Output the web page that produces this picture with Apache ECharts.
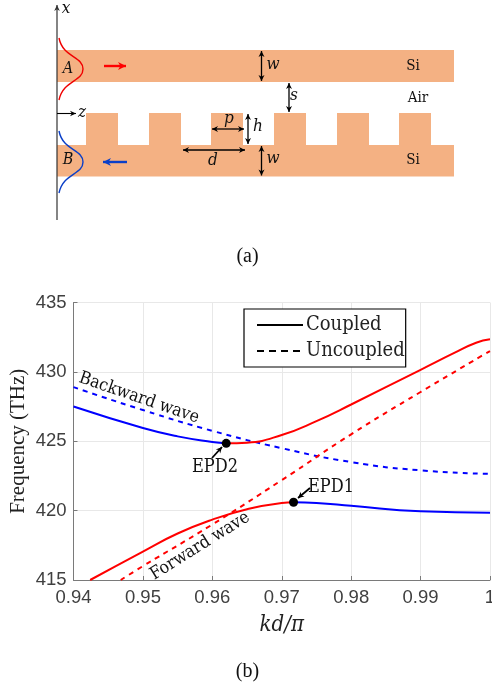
<!DOCTYPE html>
<html><head><meta charset="utf-8">
<style>html,body{margin:0;padding:0;background:#fff}#c{width:492px;height:686px}</style>
<script src="https://cdn.jsdelivr.net/npm/echarts@6/dist/echarts.min.js"></script>
</head><body><div id="c"></div>
<script>
const xTicks = [0.94,0.95,0.96,0.97,0.98,0.99,1];
const yTicks = [415,420,425,430,435];
const coupledBlueUpper = [[0.94,427.5],[0.95,425.95],[0.955,425.35],[0.96,424.95],[0.962,424.85]];
const coupledRedUpper = [[0.962,424.85],[0.965,424.9],[0.97,425.45],[0.975,426.45],[0.98,427.65],[0.99,430.15],[0.995,431.4],[0.998,432.1],[1,432.35]];
const coupledRedLower = [[0.9424,415],[0.95,417.05],[0.955,418.35],[0.96,419.35],[0.965,420.1],[0.97,420.55],[0.9717,420.6]];
const coupledBlueLower = [[0.9717,420.6],[0.975,420.55],[0.98,420.35],[0.99,419.95],[1,419.85]];
const uncoupledBlue = [[0.94,428.9],[0.95,427.25],[0.96,425.75],[0.97,424.5],[0.98,423.5],[0.99,422.9],[1,422.65]];
const uncoupledRed = [[0.9468,415],[0.95,416],[0.96,419],[0.97,422.2],[0.98,425.5],[0.99,428.55],[1,431.5]];
const epdPoints = [[0.962,424.85],[0.9717,420.6]];
const teethLeft = [86,149,211,274,337,399];

const SILICON='#F4B183', SERIF='Liberation Serif', CAPT='DejaVu Serif Condensed';
const g=[];
function rect(x,y,w,h){g.push({type:'rect',shape:{x,y,width:w,height:h},style:{fill:SILICON},z:1});}
function text(t,x,y,size,opt){opt=opt||{};g.push({type:'text',x,y,rotation:opt.rot||0,z:10,style:{text:t,fontFamily:opt.font||CAPT,fontSize:size,fontStyle:opt.italic?'italic':'normal',fill:opt.fill||'#111',align:'center',verticalAlign:'middle'}});}
function head(x,y,ang,len,wid,color){
  const c=Math.cos(ang),s=Math.sin(ang);
  g.push({type:'polygon',z:9,shape:{points:[[x,y],[x-len*c+wid*s,y-len*s-wid*c],[x-len*0.7*c,y-len*0.7*s],[x-len*c-wid*s,y-len*s+wid*c]]},style:{fill:color}});
}
function arrow(x1,y1,x2,y2,o){o=o||{};const color=o.color||'#000',w=o.w||1.3,len=o.len||6,wid=o.wid||3;
  g.push({type:'line',z:9,shape:{x1,y1,x2,y2},style:{stroke:color,lineWidth:w}});
  const a=Math.atan2(y2-y1,x2-x1);head(x2,y2,a,len,wid,color);if(o.both)head(x1,y1,a+Math.PI,len,wid,color);}
function gauss(y0,color){
  g.push({type:'bezierCurve',z:8,shape:{x1:59,y1:y0,x2:83,y2:y0+31,cpx1:63,cpy1:y0+20,cpx2:83,cpy2:y0+18},style:{stroke:color,lineWidth:1.4,fill:null}});
  g.push({type:'bezierCurve',z:8,shape:{x1:83,y1:y0+31,x2:59,y2:y0+62,cpx1:83,cpy1:y0+44,cpx2:63,cpy2:y0+42},style:{stroke:color,lineWidth:1.4,fill:null}});
}
rect(57,50,397,32);rect(57,145,397,31.5);
teethLeft.forEach(x=>rect(x,113,32,32));
arrow(57,220,57,5,{color:'#333',w:1.2,len:6,wid:2.8});
arrow(57,113.5,76,113.5,{w:1.1,len:6,wid:2.8});
gauss(38,'#f00000');gauss(131,'#0a3fc8');
arrow(104,66,126,66,{color:'#ff0000',w:2.4,len:8,wid:4});
arrow(127,162,103,162,{color:'#0a3fc8',w:2.4,len:8,wid:4});
arrow(261.5,51,261.5,81,{both:true});arrow(261.5,146,261.5,175.5,{both:true});
arrow(289,83,289,112,{both:true});arrow(248,114,248,144,{both:true});
arrow(212,129,244,129,{both:true});arrow(183,150,245,150,{both:true});
const it={italic:true,font:CAPT};
text('x',66,9,17,it);text('z',82,113,17,it);text('A',68,69,16,it);text('B',68,160,16,it);
text('w',273,65,17,it);text('w',273,159,17,it);text('s',294,96,17,it);
text('p',229,119,17,it);text('h',258,127,17,it);text('d',213,161,17,it);
text('Si',413,66,15);text('Air',418,98,15);text('Si',413,160,15);
text('(a)',247.5,257,20,{font:SERIF});
text('(b)',247.5,672,20,{font:SERIF});
text('Backward wave',139,398,17.5,{rot:-19*Math.PI/180});
text('Forward wave',200,546,17.5,{rot:32*Math.PI/180});
text('EPD2',215,467,18);text('EPD1',331,487,18);
arrow(212,458,222,447,{w:1.8,len:6,wid:3});
arrow(310,488,298,498,{w:1.8,len:6,wid:3});

function ser(name,data,color,dashed){return {name,type:'line',data,symbol:'none',smooth:0.5,clip:true,z:3,
  lineStyle:{color,width:2,type:dashed?[5,5]:'solid'},itemStyle:{color}};}
const option={
  animation:false,backgroundColor:'#fff',
  grid:{left:73.5,top:302.5,width:416.5,height:277.5,outerBoundsMode:'none',show:false},
  legend:{left:244,top:309,orient:'vertical',data:[{name:'Coupled'},{name:'Uncoupled'}],
    borderColor:'#000',borderWidth:1.2,backgroundColor:'#fff',padding:[6,1,6,12],itemWidth:46,itemHeight:12,itemGap:6,
    itemStyle:{color:'rgba(0,0,0,0)',borderWidth:0,opacity:0},
    textStyle:{fontFamily:CAPT,fontSize:20,color:'#222',padding:[0,0,0,-2]},z:6,selectedMode:false},
  xAxis:{type:'value',min:xTicks[0],max:xTicks[xTicks.length-1],interval:0.01,
    name:'kd/π',nameLocation:'middle',nameGap:34,nameMoveOverlap:false,nameTextStyle:{fontFamily:CAPT,fontStyle:'italic',fontSize:22,color:'#222'},
    axisLine:{show:true,lineStyle:{color:'#7a7a7a',width:1}},axisTick:{show:true,inside:true,length:4,lineStyle:{color:'#7a7a7a'}},
    axisLabel:{fontFamily:'Liberation Sans',fontSize:18.5,color:'#404040',margin:8,showMinLabel:true,showMaxLabel:true,hideOverlap:false,formatter:v=>String(+(+v).toFixed(2))},
    splitLine:{show:true,lineStyle:{color:'#e8e8e8',width:1}}},
  yAxis:{type:'value',min:yTicks[0],max:yTicks[yTicks.length-1],interval:5,
    name:'Frequency (THz)',nameLocation:'middle',nameGap:45,nameMoveOverlap:false,nameTextStyle:{fontFamily:SERIF,fontSize:21,color:'#222'},
    axisLine:{show:true,lineStyle:{color:'#7a7a7a',width:1}},axisTick:{show:true,inside:true,length:4,lineStyle:{color:'#7a7a7a'}},
    axisLabel:{fontFamily:'Liberation Sans',fontSize:18.5,color:'#404040',margin:7},
    splitLine:{show:true,lineStyle:{color:'#e8e8e8',width:1}}},
  series:[
    {name:'Coupled',type:'line',data:[],lineStyle:{color:'#000',width:2},itemStyle:{color:'rgba(0,0,0,0)',borderWidth:0}},
    {name:'Uncoupled',type:'line',data:[],lineStyle:{color:'#000',width:2,type:[7,5]},itemStyle:{color:'rgba(0,0,0,0)',borderWidth:0}},
    ser('uncoupledBlue',uncoupledBlue,'#0000ff',true),
    ser('uncoupledRed',uncoupledRed,'#ff0000',true),
    ser('coupledBlueUpper',coupledBlueUpper,'#0000ff'),
    ser('coupledRedUpper',coupledRedUpper,'#ff0000'),
    ser('coupledRedLower',coupledRedLower,'#ff0000'),
    ser('coupledBlueLower',coupledBlueLower,'#0000ff'),
    {name:'EPD',type:'scatter',data:epdPoints,symbol:'circle',symbolSize:9,itemStyle:{color:'#000',opacity:1},z:5}
  ],
  graphic:g
};
echarts.init(document.getElementById('c'),null,{renderer:'canvas'}).setOption(option);
</script></body></html>
